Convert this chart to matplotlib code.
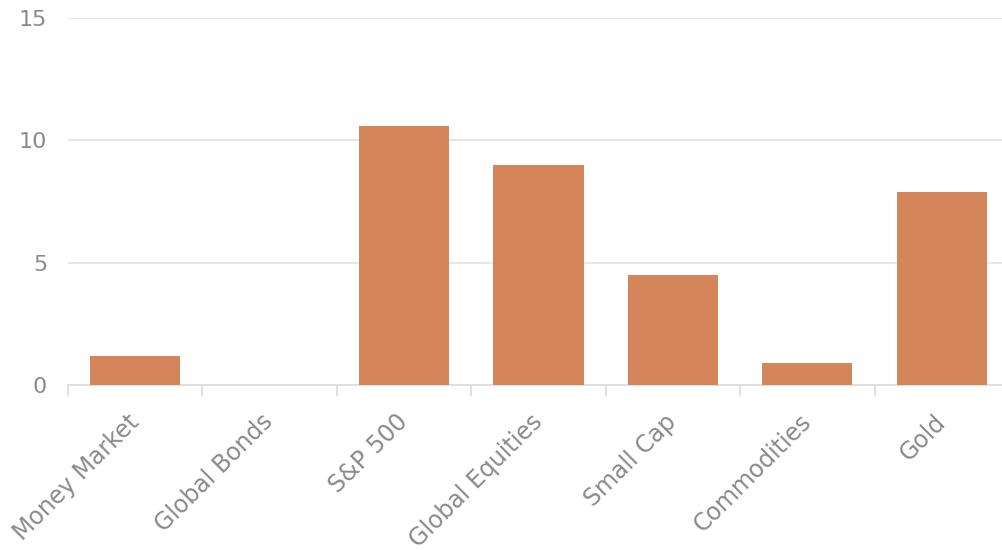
import numpy as np
import matplotlib.pyplot as plt

# values
categories = ['Money Market', 'Global Bonds', 'S&P 500', 'Global Equities',
              'Small Cap', 'Commodities', 'Gold']
returns = [1.2, 0.0, 10.6, 9.0, 4.5, 0.9, 7.9]
y_ticks = [0, 5, 10, 15]

plt.rcParams['font.family'] = ['DejaVu Sans']

fig = plt.figure(figsize=(10.02, 5.5), dpi=100)
ax = fig.add_axes([68 / 1002, 165 / 550, 941 / 1002, 367 / 550])

x = np.arange(len(categories))
ax.bar(x, returns, width=0.67, color='#D4855A', zorder=3)

ax.set_xlim(-0.5, len(categories) - 0.5)
ax.set_ylim(0, 15)
ax.set_yticks(y_ticks)
ax.yaxis.grid(True, color='#e5e5e5', linewidth=1.3, zorder=0)

for s in ['top', 'right', 'left']:
    ax.spines[s].set_visible(False)
ax.spines['bottom'].set_color('#dddddd')
ax.spines['bottom'].set_linewidth(1.3)

# label ticks at the centres, tick marks at the boundaries
ax.set_xticks(x)
ax.set_xticklabels(categories, rotation=45, ha='right', va='center',
                   rotation_mode='anchor', fontsize=17, color='#8a8a8a')
ax.tick_params(axis='x', which='major', length=0, pad=24)
ax.set_xticks(np.arange(len(categories)) - 0.5, minor=True)
ax.tick_params(axis='x', which='minor', length=8, width=1.3, color='#dddddd')
ax.tick_params(axis='y', length=0, pad=15, labelsize=16, labelcolor='#8a8a8a')

fig.savefig('out.png', dpi=100)
